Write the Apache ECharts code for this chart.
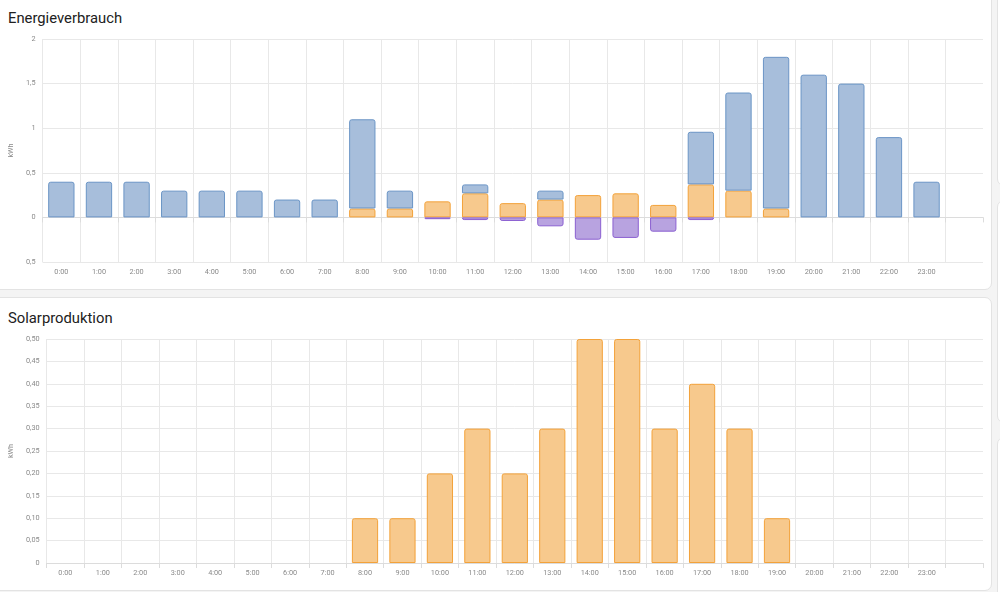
<!DOCTYPE html>
<html>
<head>
<meta charset="utf-8">
<script src="https://cdn.jsdelivr.net/npm/echarts@6/dist/echarts.min.js"></script>
<style>
  html, body { margin: 0; padding: 0; background: #f4f4f4; font-family: Roboto, sans-serif; }
  body { width: 1000px; height: 592px; position: relative; overflow: hidden; }
  .card { position: absolute; background: #fff; border: 1px solid #e3e3e3; border-radius: 7px; box-sizing: border-box; }
  .title { position: absolute; left: 8px; font-size: 14.8px; color: #212121; }
  .chart { position: absolute; left: 0; width: 992px; }
</style>
</head>
<body>
<div class="card" style="left:-10px; top:-10px; width:1002px; height:300px"></div>
<div class="card" style="left:-10px; top:297px; width:1002px; height:294px"></div>
<div class="card" style="left:997px; top:-10px; width:20px; height:196px"></div>
<div class="card" style="left:997px; top:200px; width:20px; height:223px"></div>
<div class="card" style="left:997px; top:437px; width:20px; height:170px"></div>

<div class="title" style="top:9px">Energieverbrauch</div>
<div class="title" style="top:309px">Solarproduktion</div>
<div class="chart" id="consumption" style="top:0; height:290px"></div>
<div class="chart" id="solar" style="top:297px; height:293px"></div>

<script>
// Stundenlabels, letzter Slot bleibt leer
const hours = ['0:00', '1:00', '2:00', '3:00', '4:00', '5:00', '6:00', '7:00', '8:00', '9:00', '10:00', '11:00',
  '12:00', '13:00', '14:00', '15:00', '16:00', '17:00', '18:00', '19:00', '20:00', '21:00', '22:00', '23:00', ''];

// Energieverbrauch (kWh)
const gridConsumption = [0.4, 0.4, 0.4, 0.3, 0.3, 0.3, 0.2, 0.2, 1.0, 0.2, 0, 0.1,
  0, 0.1, 0, 0, 0, 0.59, 1.1, 1.7, 1.6, 1.5, 0.9, 0.4];
const solarConsumption = [0, 0, 0, 0, 0, 0, 0, 0, 0.1, 0.1, 0.18, 0.27,
  0.16, 0.2, 0.25, 0.27, 0.14, 0.37, 0.3, 0.1, 0, 0, 0, 0];
const gridReturn = [0, 0, 0, 0, 0, 0, 0, 0, 0, 0, -0.02, -0.03,
  -0.04, -0.1, -0.25, -0.23, -0.16, -0.03, 0, 0, 0, 0, 0, 0];

// Solarproduktion (kWh)
const solarProduction = [0, 0, 0, 0, 0, 0, 0, 0, 0.1, 0.1, 0.2, 0.3,
  0.2, 0.3, 0.5, 0.5, 0.3, 0.4, 0.3, 0.1, 0, 0, 0, 0];

const textColor = '#8a8a8a';
const lineColor = '#e8e8e8';

function noZero(arr) {
  return arr.map(v => v === 0 ? null : v);
}

function xAxis() {
  return {
    type: 'category',
    data: hours,
    boundaryGap: true,
    axisLine: { show: true, lineStyle: { color: '#dcdcdc' } },
    axisTick: { show: true, length: 5, lineStyle: { color: '#dcdcdc' } },
    axisLabel: { interval: 0, color: textColor, fontSize: 7.3, fontFamily: 'Roboto', margin: 7 },
    splitLine: { show: true, showMaxLine: false, lineStyle: { color: lineColor } }
  };
}

function barSeries(name, data, fill, border, stack, radius) {
  return {
    name: name,
    type: 'bar',
    stack: stack,
    data: noZero(data),
    barCategoryGap: '30%',
    itemStyle: { color: fill, borderColor: border, borderWidth: 1, borderRadius: radius }
  };
}

const consumptionOption = {
  animation: false,
  grid: { left: 40, right: 9, top: 39, bottom: 28 },
  xAxis: xAxis(),
  yAxis: {
    type: 'value',
    min: -0.5,
    max: 2,
    interval: 0.5,
    name: 'kWh',
    nameLocation: 'middle',
    nameGap: 24,
    nameTextStyle: { color: textColor, fontSize: 7.3, fontFamily: 'Roboto' },
    axisLabel: {
      color: textColor, fontSize: 7.3, fontFamily: 'Roboto', margin: 7,
      formatter: v => String(Math.abs(v)).replace('.', ',')
    },
    splitLine: { lineStyle: { color: lineColor } }
  },
  series: [
    barSeries('Solar', solarConsumption, '#f7c98d', '#f3a23a', 'usage', [2, 2, 0, 0]),
    barSeries('Netz', gridConsumption, '#a7bedb', '#6b95c6', 'usage', [2, 2, 0, 0]),
    barSeries('Einspeisung', gridReturn, '#b8a3e0', '#8b60d1', 'usage', [0, 0, 2, 2])
  ]
};

const solarOption = {
  animation: false,
  grid: { left: 43, right: 9, top: 42, bottom: 27 },
  xAxis: xAxis(),
  yAxis: {
    type: 'value',
    min: 0,
    max: 0.5,
    interval: 0.05,
    name: 'kWh',
    nameLocation: 'middle',
    nameGap: 27,
    nameTextStyle: { color: textColor, fontSize: 7.3, fontFamily: 'Roboto' },
    axisLabel: {
      color: textColor, fontSize: 7.3, fontFamily: 'Roboto', margin: 7,
      formatter: v => v === 0 ? '0' : v.toFixed(2).replace('.', ',')
    },
    splitLine: { lineStyle: { color: lineColor } }
  },
  series: [
    barSeries('Solarproduktion', solarProduction, '#f7c98d', '#f3a23a', null, [2, 2, 0, 0])
  ]
};

echarts.init(document.getElementById('consumption')).setOption(consumptionOption);
echarts.init(document.getElementById('solar')).setOption(solarOption);
</script>
</body>
</html>
